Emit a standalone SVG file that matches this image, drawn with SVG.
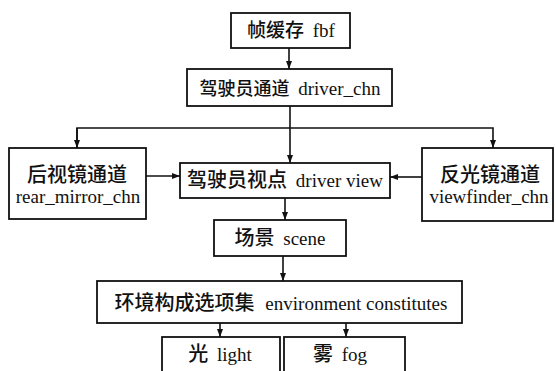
<svg xmlns="http://www.w3.org/2000/svg" width="556" height="371" viewBox="0 0 556 371">
<defs>
<style>
.box{fill:#fff;stroke:#111;stroke-width:1.8}
.ln{fill:none;stroke:#111;stroke-width:1.6}
.t{font-family:"Liberation Serif","Noto Sans CJK SC",serif;font-size:19px;fill:#111;text-anchor:middle}
.c{font-family:"Noto Sans CJK SC","Liberation Serif",sans-serif;font-size:19px;font-weight:500}
</style>
<marker id="ah" markerUnits="userSpaceOnUse" markerWidth="8" markerHeight="6" refX="8" refY="3" orient="auto">
<path d="M0,0 L8,3 L0,6 z" fill="#111"/>
</marker>
</defs>
<rect width="556" height="371" fill="#fff"/>
<g id="connectors">
<path class="ln" d="M289,48 V69" marker-end="url(#ah)"/>
<path class="ln" d="M290,106 V163" marker-end="url(#ah)"/>
<path class="ln" d="M77,148 V128 H493 V148" marker-end="url(#ah)"/>
<path class="ln" d="M77,128 V148" marker-end="url(#ah)"/>
<path class="ln" d="M146,176 H180" marker-end="url(#ah)"/>
<path class="ln" d="M422,177 H390" marker-end="url(#ah)"/>
<path class="ln" d="M285,198 V220" marker-end="url(#ah)"/>
<path class="ln" d="M283,256 V281" marker-end="url(#ah)"/>
<path class="ln" d="M220,323 V337" marker-end="url(#ah)"/>
<path class="ln" d="M346,323 V337" marker-end="url(#ah)"/>
</g>
<g id="fbf">
<rect class="box" x="231" y="13" width="119" height="35"/>
<text class="t" x="291" y="37"><tspan class="c">帧缓存</tspan> <tspan dx="4">fbf</tspan></text>
</g>
<g id="driver_chn">
<rect class="box" x="187" y="69" width="205" height="37"/>
<text class="t" x="290" y="95"><tspan class="c" style="font-size:18px">驾驶员通道</tspan> <tspan dx="4">driver_chn</tspan></text>
</g>
<g id="rear_mirror_chn">
<rect class="box" x="9" y="148" width="137" height="71"/>
<text class="t" x="77" y="182"><tspan class="c" style="font-size:20px">后视镜通道</tspan></text>
<text class="t" x="78" y="203">rear_mirror_chn</text>
</g>
<g id="driver_view">
<rect class="box" x="180" y="163" width="210" height="35"/>
<text class="t" x="285" y="187"><tspan class="c" style="font-size:20px">驾驶员视点</tspan> <tspan dx="4">driver view</tspan></text>
</g>
<g id="viewfinder_chn">
<rect class="box" x="422" y="148" width="131" height="73"/>
<text class="t" x="490" y="182"><tspan class="c" style="font-size:20px">反光镜通道</tspan></text>
<text class="t" x="489" y="203">viewfinder_chn</text>
</g>
<g id="scene">
<rect class="box" x="214" y="220" width="132" height="36"/>
<text class="t" x="280" y="245"><tspan class="c" style="font-size:20px">场景</tspan> <tspan dx="4">scene</tspan></text>
</g>
<g id="environment">
<rect class="box" x="97" y="281" width="365" height="42"/>
<text class="t" x="281" y="310"><tspan class="c" style="font-size:20px">环境构成选项集</tspan> <tspan dx="6">environment constitutes</tspan></text>
</g>
<g id="light">
<rect class="box" x="162" y="337" width="118" height="42"/>
<text class="t" x="220" y="361"><tspan class="c" style="font-size:20px">光</tspan> <tspan dx="4">light</tspan></text>
</g>
<g id="fog">
<rect class="box" x="284" y="337" width="121" height="42"/>
<text class="t" x="340" y="361"><tspan class="c" style="font-size:20px">雾</tspan> <tspan dx="4">fog</tspan></text>
</g>
</svg>
